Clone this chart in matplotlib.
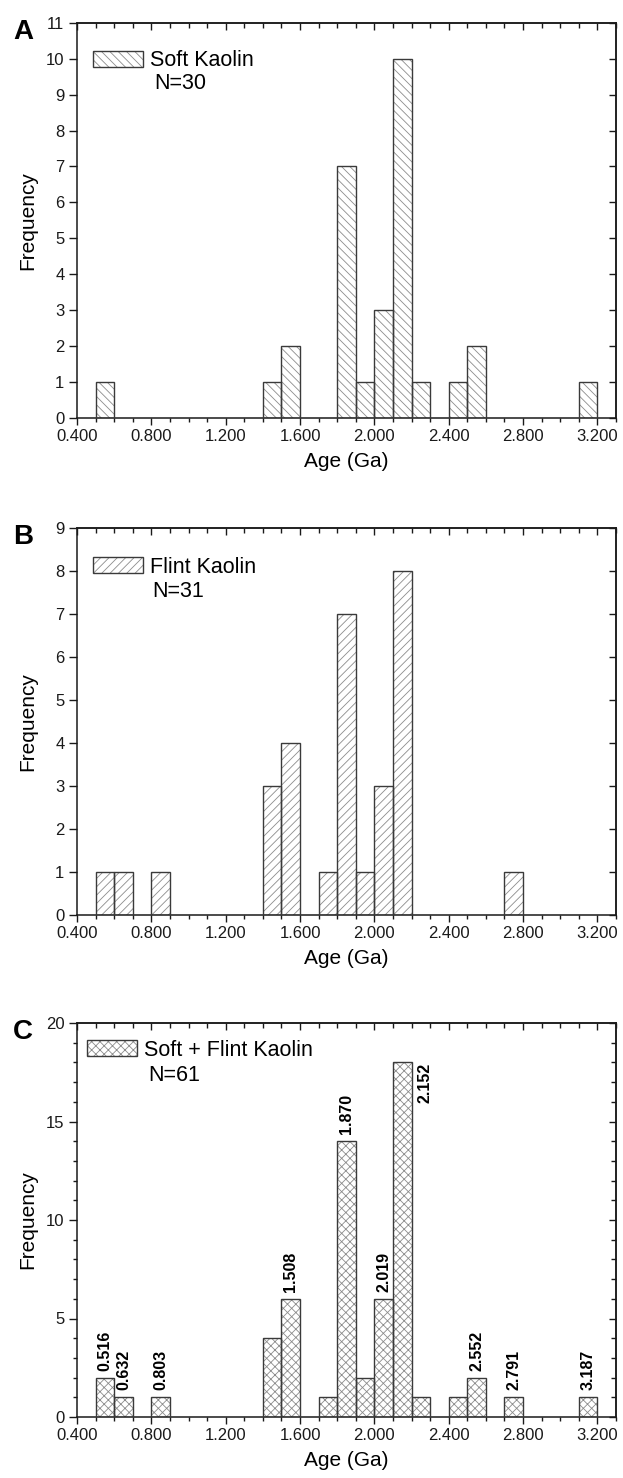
import matplotlib
matplotlib.use("Agg")
import matplotlib.pyplot as plt
from matplotlib.ticker import MultipleLocator, FormatStrFormatter
from matplotlib.patches import Patch

plt.rcParams['font.family'] = ['Liberation Sans', 'DejaVu Sans']
plt.rcParams['hatch.linewidth'] = 0.6

# ---------------- data ----------------
bin_width = 0.1

soft_bins = [0.5, 1.4, 1.5, 1.8, 1.9, 2.0, 2.1, 2.2, 2.4, 2.5, 3.1]
soft_counts = [1, 1, 2, 7, 1, 3, 10, 1, 1, 2, 1]

flint_bins = [0.5, 0.6, 0.8, 1.4, 1.5, 1.7, 1.8, 1.9, 2.0, 2.1, 2.7]
flint_counts = [1, 1, 1, 3, 4, 1, 7, 1, 3, 8, 1]

all_bins = [0.5, 0.6, 0.8, 1.4, 1.5, 1.7, 1.8, 1.9, 2.0, 2.1, 2.2, 2.4, 2.5, 2.7, 3.1]
all_counts = [2, 1, 1, 4, 6, 1, 14, 2, 6, 18, 1, 1, 2, 1, 1]

peak_bins = [0.5, 0.6, 0.8, 1.5, 1.8, 2.0, 2.1, 2.5, 2.7, 3.1]
peak_labels = ['0.516', '0.632', '0.803', '1.508', '1.870', '2.019', '2.152',
               '2.552', '2.791', '3.187']

x_ticks = [0.4, 0.8, 1.2, 1.6, 2.0, 2.4, 2.8, 3.2]

panels = [
    dict(letter='A', bins=soft_bins, counts=soft_counts, hatch='\\\\\\\\',
         name='Soft Kaolin', n='N=30', ymax=11, ymajor=1, yminor=None,
         rect=[77, 22.7, 616, 418], leg=(0.0297, 0.904), npos=(0.143, 0.847)),
    dict(letter='B', bins=flint_bins, counts=flint_counts, hatch='////',
         name='Flint Kaolin', n='N=31', ymax=9, ymajor=1, yminor=None,
         rect=[77, 528, 616, 915], leg=(0.0297, 0.899), npos=(0.14, 0.837)),
    dict(letter='C', bins=all_bins, counts=all_counts, hatch='xxxx',
         name='Soft + Flint Kaolin', n='N=61', ymax=20, ymajor=5, yminor=1,
         rect=[77, 1023, 616, 1417], leg=(0.0186, 0.931), npos=(0.132, 0.868)),
]

W, H = 623, 1478
fig = plt.figure(figsize=(W / 100, H / 100), dpi=100)

EDGE = '#3a3a3a'
HATCH = '#8c8c8c'
AX = '#1a1a1a'
FS_LAB = 15
FS_LEG = 15.5

for p in panels:
    x0, y0, x1, y1 = p['rect']
    ax = fig.add_axes([x0 / W, 1 - y1 / H, (x1 - x0) / W, (y1 - y0) / H])
    # hatched fill
    ax.bar(p['bins'], p['counts'], width=bin_width, align='edge',
           color='white', edgecolor=HATCH, hatch=p['hatch'], linewidth=0,
           zorder=2)
    # outline
    ax.bar(p['bins'], p['counts'], width=bin_width, align='edge',
           fill=False, edgecolor=EDGE, linewidth=1.0, zorder=3)

    ax.set_xlim(0.4, 3.3)
    ax.set_ylim(0, p['ymax'])
    ax.set_xticks(x_ticks)
    ax.xaxis.set_major_formatter(FormatStrFormatter('%.3f'))
    ax.xaxis.set_minor_locator(MultipleLocator(0.1))
    ax.yaxis.set_major_locator(MultipleLocator(p['ymajor']))
    if p['yminor']:
        ax.yaxis.set_minor_locator(MultipleLocator(p['yminor']))
    ax.tick_params(which='both', direction='out', labelsize=12,
                   width=1.0, colors=AX)
    ax.tick_params(which='major', length=5)
    ax.tick_params(which='minor', length=3)
    ax.tick_params(axis='y', which='major', length=6)
    ax.tick_params(axis='x', pad=3)
    ax.tick_params(axis='y', pad=3)
    for s in ax.spines.values():
        s.set_linewidth(1.1)
        s.set_color(AX)

    # inward ticks on top and right
    secx = ax.secondary_xaxis('top')
    secx.set_xticks(x_ticks)
    secx.xaxis.set_minor_locator(MultipleLocator(0.1))
    secx.tick_params(which='both', direction='in', labeltop=False,
                     width=1.0, colors=AX)
    secx.tick_params(which='major', length=5)
    secx.tick_params(which='minor', length=3.5)
    secx.spines['top'].set_linewidth(1.1)
    secx.spines['top'].set_color(AX)
    secy = ax.secondary_yaxis('right')
    secy.yaxis.set_major_locator(MultipleLocator(p['ymajor']))
    if p['yminor']:
        secy.yaxis.set_minor_locator(MultipleLocator(p['yminor']))
    secy.tick_params(which='both', direction='in', labelright=False,
                     width=1.0, colors=AX)
    secy.tick_params(which='major', length=5)
    secy.tick_params(which='minor', length=3.5)
    secy.spines['right'].set_linewidth(1.1)
    secy.spines['right'].set_color(AX)

    ax.set_xlabel('Age (Ga)', fontsize=FS_LAB, labelpad=6)
    ax.set_ylabel('Frequency', fontsize=FS_LAB)
    ax.yaxis.set_label_coords(-0.074, 0.5)

    # legend
    h_fill = Patch(facecolor='white', edgecolor=HATCH, hatch=p['hatch'],
                   linewidth=0)
    h_edge = Patch(facecolor='none', edgecolor=EDGE, linewidth=1.0)
    fs_px = FS_LEG * 100 / 72
    ax.legend([(h_fill, h_edge)], [p['name']], loc='center left',
              frameon=False, fontsize=FS_LEG, handlelength=50 / fs_px,
              handleheight=17 / fs_px, handletextpad=7 / fs_px,
              borderpad=0, borderaxespad=0,
              bbox_to_anchor=p['leg'])
    ax.text(p['npos'][0], p['npos'][1], p['n'], transform=ax.transAxes,
            fontsize=FS_LEG, ha='left', va='center')

    # panel letter
    fig.text(13 / W, 1 - (y0 - 4) / H, p['letter'],
             fontsize=20, fontweight='bold', ha='left', va='top')

    # peak labels for panel C
    if p['letter'] == 'C':
        top = max(p['counts'])
        for b, lab in zip(peak_bins, peak_labels):
            c = p['counts'][p['bins'].index(b)]
            if c == top:
                ax.annotate(lab, xy=(b + bin_width, c), xytext=(4.5, 0),
                            textcoords='offset points', rotation=90,
                            ha='left', va='top', fontsize=11.5,
                            fontweight='bold')
            else:
                ax.annotate(lab, xy=(b + bin_width / 2, c), xytext=(0, 5),
                            textcoords='offset points', rotation=90,
                            ha='center', va='bottom', fontsize=11.5,
                            fontweight='bold')

fig.savefig('out.png', dpi=100)
